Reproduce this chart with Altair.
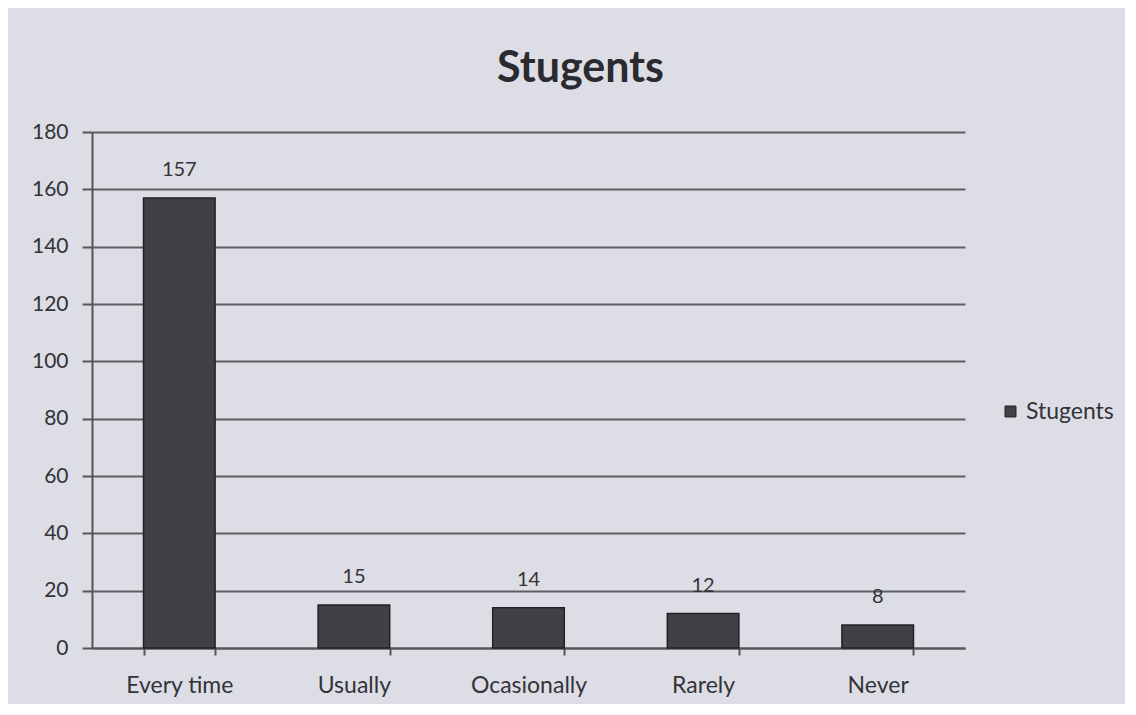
import altair as alt
import pandas as pd

categories = ["Every time", "Usually", "Ocasionally", "Rarely", "Never"]
values = [157, 15, 14, 12, 8]
series = ["Stugents"] * 5

df = pd.DataFrame({"category": categories, "value": values, "series": series})

font = "Lato"

base = alt.Chart(df).encode(
    x=alt.X("category:N", sort=categories, title=None,
            scale=alt.Scale(paddingInner=0.59, paddingOuter=0.295),
            axis=alt.Axis(labelAngle=0, labelFontSize=23, labelFont=font,
                          labelColor="#333338", labelPadding=19,
                          tickBand="extent", tickSize=7, tickColor="#555",
                          tickWidth=2, domainColor="#555", domainWidth=2,
                          grid=False)),
)

bars = base.mark_bar(stroke="#222226", strokeWidth=1.5).encode(
    y=alt.Y("value:Q", title=None,
            scale=alt.Scale(domain=[0, 180]),
            axis=alt.Axis(values=list(range(0, 181, 20)), labelFontSize=21,
                          labelFont=font, labelColor="#333338", labelPadding=14,
                          tickSize=10, tickColor="#555", tickWidth=2,
                          domainColor="#555", domainWidth=2,
                          gridColor="#505055", gridWidth=2, gridOpacity=0.9)),
    color=alt.Color("series:N", title=None,
                    scale=alt.Scale(range=["#404046"]),
                    legend=alt.Legend(orient="none", legendX=907, legendY=268,
                                      symbolType="square", symbolSize=120,
                                      labelFontSize=23, labelFont=font,
                                      labelColor="#333338", symbolStrokeColor="#222",
                                      symbolStrokeWidth=1)),
)

labels = base.mark_text(dy=-28, fontSize=20, font=font, color="#333338").encode(
    y=alt.Y("value:Q"),
    text=alt.Text("value:Q"),
)

chart = (bars + labels).properties(
    width=873, height=516,
    background="#dcdde5",
    padding={"left": 84, "top": 124, "right": 160, "bottom": 56},
    autosize=alt.AutoSizeParams(type="none"),
    title=alt.TitleParams("Stugents", fontSize=43, font=font, fontWeight="bold",
                          color="#2a2a30", anchor="middle", dx=52, offset=30),
).configure_view(stroke=None)

chart.save("out.html", embed_options={"renderer": "svg", "actions": False})
